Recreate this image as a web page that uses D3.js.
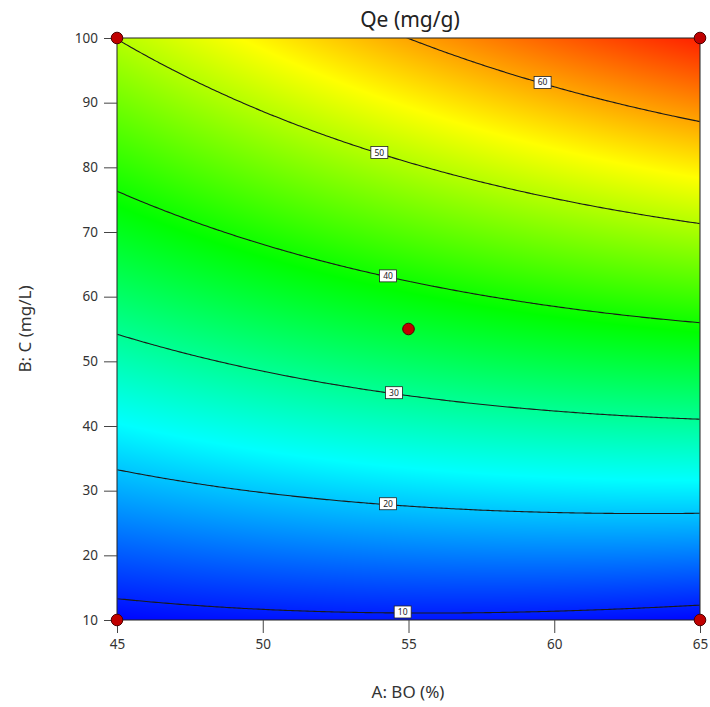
<!DOCTYPE html>
<html>
<head>
<meta charset="utf-8">
<script src="https://cdn.jsdelivr.net/npm/d3@7"></script>
<style>
  html, body { margin: 0; padding: 0; background: #fff; }
  svg text { font-family: "Noto Sans", "Open Sans", sans-serif; }
</style>
</head>
<body>
<svg id="chart" width="710" height="707"></svg>
<script>
// ---- Data ----
const chartTitle = "Qe (mg/g)";
const xTitle = "A: BO (%)";
const yTitle = "B: C (mg/L)";
const xTicks = [45, 50, 55, 60, 65];
const yTicks = [10, 20, 30, 40, 50, 60, 70, 80, 90, 100];
const contourLevels = [10, 20, 30, 40, 50, 60];
// A positions at which the contour lines were read
const sampleA = [45, 50, 55, 60, 65];
// B value (mg/L) where each contour crosses the sample A positions
const bAt10 = [13.1, 11.5, 11.1, 11.2, 12.5];
const bAt20 = [34.0, 29.5, 27.6, 26.7, 26.5];
const bAt30 = [54.5, 48.3, 45.0, 42.0, 41.1];
const bAt40 = [75.4, 68.0, 62.3, 58.7, 55.9];
const bAt50 = [100.0, 88.9, 80.8, 75.3, 71.1];
const bAt60 = [null, null, 99.8, 92.7, 87.0];
// A positions of the contour labels
const labelA = [54.8, 54.3, 54.5, 54.3, 54.0, 59.6];
// colour-ramp range (response units)
const colorRange = [8, 70];
// design points
const designA = [45, 65, 45, 65, 55];
const designB = [10, 10, 100, 100, 55];

// ---- quadratic response-surface model fitted to the read contours ----
const coded = (A, B) => [(A - 55) / 10, (B - 55) / 45];
const feats = (A, B) => { const [a, b] = coded(A, B); return [1, a, b, a * b, a * a, b * b]; };
const obs = [];
[bAt10, bAt20, bAt30, bAt40, bAt50, bAt60].forEach((arr, li) => {
  arr.forEach((B, i) => { if (B != null) obs.push([sampleA[i], B, contourLevels[li]]); });
});
function solve(M, v) {
  const n = v.length, A = M.map((r, i) => r.concat([v[i]]));
  for (let c = 0; c < n; c++) {
    let p = c; for (let r = c + 1; r < n; r++) if (Math.abs(A[r][c]) > Math.abs(A[p][c])) p = r;
    [A[c], A[p]] = [A[p], A[c]];
    for (let r = 0; r < n; r++) if (r !== c) {
      const f = A[r][c] / A[c][c];
      for (let k = c; k <= n; k++) A[r][k] -= f * A[c][k];
    }
  }
  return A.map((r, i) => r[n] / r[i]);
}
const XtX = d3.range(6).map(() => d3.range(6).map(() => 0));
const Xty = d3.range(6).map(() => 0);
obs.forEach(([A, B, z]) => {
  const f = feats(A, B);
  for (let i = 0; i < 6; i++) { Xty[i] += f[i] * z; for (let j = 0; j < 6; j++) XtX[i][j] += f[i] * f[j]; }
});
const coef = solve(XtX, Xty);
const model = (A, B) => d3.sum(feats(A, B), (f, i) => f * coef[i]);

// ---- layout ----
const svg = d3.select("#chart");
const x = d3.scaleLinear().domain([45, 65]).range([117, 700]);
const y = d3.scaleLinear().domain([10, 100]).range([620, 38]);
const [px0, px1] = x.range(), [py1, py0] = y.range();
const W = px1 - px0, H = py1 - py0;

// fill image
const cv = document.createElement("canvas");
cv.width = W; cv.height = H;
const ctx = cv.getContext("2d");
const img = ctx.createImageData(W, H);
const [vmin, vmax] = colorRange;
const color = d3.scaleLinear()
  .domain(d3.range(5).map(k => vmin + (vmax - vmin) * k / 4))
  .range(["#0000ff", "#00ffff", "#00ff00", "#ffff00", "#ff0000"])
  .interpolate(d3.interpolateRgb).clamp(true);
for (let j = 0; j < H; j++) for (let i = 0; i < W; i++) {
  const v = model(x.invert(px0 + i + 0.5), y.invert(py0 + j + 0.5));
  const c = d3.rgb(color(v)), k = j * W + i;
  img.data[4 * k] = c.r; img.data[4 * k + 1] = c.g; img.data[4 * k + 2] = c.b; img.data[4 * k + 3] = 255;
}
ctx.putImageData(img, 0, 0);
svg.append("image").attr("x", px0).attr("y", py0).attr("width", W).attr("height", H)
  .attr("preserveAspectRatio", "none").attr("href", cv.toDataURL());

// contours
const n = 240;
const grid = new Float64Array(n * n);
const gA = c => 45 + (c - 0.5) / (n - 1) * 20;
const gB = r => 10 + (r - 0.5) / (n - 1) * 90;
for (let r = 0; r < n; r++) for (let c = 0; c < n; c++) grid[r * n + c] = model(gA(c + 0.5), gB(r + 0.5));
const contours = d3.contours().size([n, n]).thresholds(contourLevels)(grid);
const proj = d3.geoTransform({ point(px, py) { this.stream.point(x(gA(px)), y(gB(py))); } });
svg.append("clipPath").attr("id", "clip").append("rect")
  .attr("x", px0 + 0.5).attr("y", py0 + 0.5).attr("width", W - 1).attr("height", H - 1);
svg.append("g").attr("clip-path", "url(#clip)")
  .selectAll("path").data(contours).join("path")
  .attr("d", d3.geoPath(proj)).attr("fill", "none")
  .attr("stroke", "#1a1a1a").attr("stroke-width", 1.1);

// border
svg.append("rect").attr("x", px0).attr("y", py0).attr("width", W).attr("height", H)
  .attr("fill", "none").attr("stroke", "#222").attr("stroke-width", 1);

// contour labels
function findB(A, level) {
  let lo = 10, hi = 100;
  const flo = model(A, lo) - level;
  for (let k = 0; k < 60; k++) {
    const mid = (lo + hi) / 2, fm = model(A, mid) - level;
    if ((fm > 0) === (flo > 0)) lo = mid; else hi = mid;
  }
  return (lo + hi) / 2;
}
const lab = svg.append("g");
contourLevels.forEach((lv, i) => {
  const A = labelA[i], B = findB(A, lv);
  const g = lab.append("g").attr("transform", `translate(${x(A)},${y(B) - 1})`);
  g.append("rect").attr("x", -8.5).attr("y", -6).attr("width", 17).attr("height", 12)
    .attr("fill", "#fff").attr("stroke", "#222").attr("stroke-width", 0.8);
  g.append("text").attr("text-anchor", "middle").attr("dy", "0.35em")
    .attr("font-size", 8.5).attr("fill", "#222").text(lv);
});

// axes
const xAxis = svg.append("g").attr("transform", `translate(0,${py1})`)
  .call(d3.axisBottom(x).tickValues(xTicks).tickSize(13).tickPadding(6).tickFormat(d3.format("d")));
const yAxis = svg.append("g").attr("transform", `translate(${px0},0)`)
  .call(d3.axisLeft(y).tickValues(yTicks).tickSize(13).tickPadding(6).tickFormat(d3.format("d")));
[xAxis, yAxis].forEach(g => {
  g.select(".domain").remove();
  g.selectAll(".tick line").attr("stroke", "#444");
  g.selectAll(".tick text").attr("font-size", 13.5).attr("fill", "#333")
    .style("font-family", '"Noto Sans", sans-serif');
});

// design points
svg.append("g").selectAll("circle").data(designA.map((a, i) => [a, designB[i]])).join("circle")
  .attr("cx", d => x(d[0])).attr("cy", d => y(d[1])).attr("r", 5.8)
  .attr("fill", "#c00000").attr("stroke", "#500000").attr("stroke-width", 1);

// titles
svg.append("text").attr("x", 410).attr("y", 27).attr("text-anchor", "middle")
  .attr("font-size", 21).attr("fill", "#222").text(chartTitle);
svg.append("text").attr("x", 408).attr("y", 698).attr("text-anchor", "middle")
  .attr("font-size", 17).attr("fill", "#333").text(xTitle);
svg.append("text").attr("transform", "translate(31,329) rotate(-90)").attr("text-anchor", "middle")
  .attr("font-size", 17).attr("fill", "#333").text(yTitle);
</script>
</body>
</html>
